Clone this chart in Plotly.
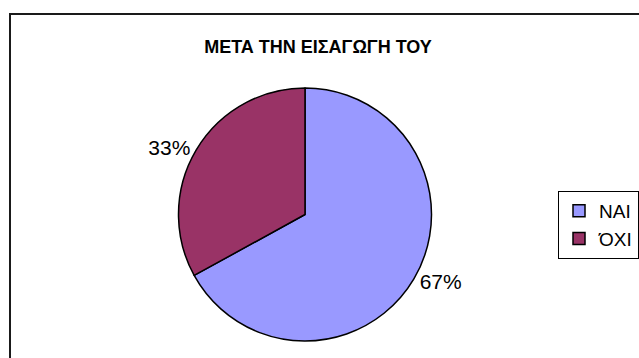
import plotly.graph_objects as go

# Share of answers after the introduction
labels = ["ΝΑΙ", "ΌΧΙ"]
values = [67, 33]
colors = ["#9999FF", "#993366"]
title_text = "ΜΕΤΑ ΤΗΝ ΕΙΣΑΓΩΓΗ ΤΟΥ"

W, H = 639, 358

fig = go.Figure(
    go.Pie(
        labels=labels,
        values=values,
        sort=False,
        direction="clockwise",
        rotation=0,
        marker=dict(colors=colors, line=dict(color="#000000", width=1.5)),
        textinfo="percent",
        texttemplate="%{percent:.0%}",
        textposition="outside",
        textfont=dict(family="Liberation Sans, Arial", size=21, color="#000000"),
        domain=dict(x=[(305 - 165) / W, (305 + 165) / W], y=[1 - 341 / H, 1 - 88 / H]),
        hoverinfo="label+percent",
    )
)

fig.update_layout(
    width=W,
    height=H,
    margin=dict(l=0, r=0, t=0, b=0),
    paper_bgcolor="#FFFFFF",
    plot_bgcolor="#FFFFFF",
    font=dict(family="Liberation Sans, Arial", color="#000000"),
    title=dict(
        text="<b>" + title_text + "</b>",
        x=318 / W,
        xanchor="center",
        y=1 - 47 / H,
        yanchor="middle",
        font=dict(family="Liberation Sans, Arial", size=18, color="#000000"),
    ),
    legend=dict(
        x=1.0,
        xanchor="right",
        y=1 - 191 / H,
        yanchor="top",
        itemwidth=30,
        bgcolor="#FFFFFF",
        bordercolor="#000000",
        borderwidth=1,
        font=dict(family="Liberation Sans, Arial", size=19, color="#000000"),
    ),
    shapes=[
        dict(
            type="rect",
            xref="paper",
            yref="paper",
            x0=10 / W,
            x1=1.05,
            y0=-0.05,
            y1=1 - 14 / H,
            line=dict(color="#1a1a1a", width=2),
            fillcolor="rgba(0,0,0,0)",
        )
    ],
)

fig.write_html("out.html")
